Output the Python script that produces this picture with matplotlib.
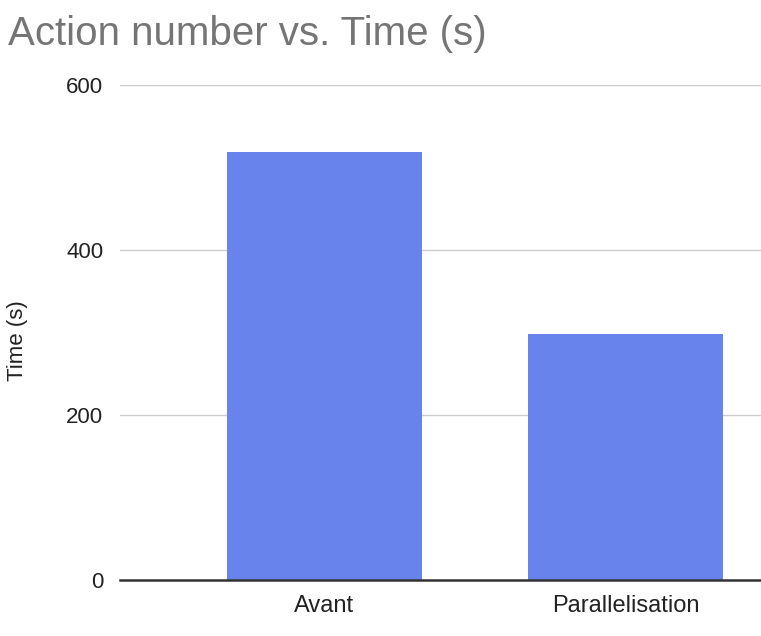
import matplotlib.pyplot as plt

categories = ["Avant", "Parallelisation"]
times = [519, 298]
yticks = [0, 200, 400, 600]

plt.rcParams['font.family'] = ['Liberation Sans', 'DejaVu Sans']

fig = plt.figure(figsize=(7.61, 6.36), dpi=100)
ax = fig.add_axes([120/761, 1-580/636, 641/761, (580-85)/636])

x = list(range(len(categories)))
ax.bar(x, times, width=0.645, color='#6884ec', zorder=3)

ax.set_xlim(-0.678, 1.449)
ax.set_ylim(0, 600)
ax.set_yticks(yticks)
ax.set_yticklabels([str(t) for t in yticks])
ax.set_xticks(x)
ax.set_xticklabels(categories)
ax.tick_params(length=0, colors='#222222')
ax.tick_params(axis='y', labelsize=16, pad=12)
ax.tick_params(axis='x', labelsize=17, pad=11)
ax.grid(axis='y', color='#cccccc', linewidth=1, zorder=0)
for s in ['top', 'right', 'left']:
    ax.spines[s].set_visible(False)
ax.spines['bottom'].set_color('#333333')
ax.spines['bottom'].set_linewidth(1.8)
ax.spines['bottom'].set_zorder(4)

fig.text(18/761, 1-341/636, 'Time (s)', fontsize=16, color='#222222',
         rotation=90, ha='center', va='center')
fig.text(8/761, 1-45/636, 'Action number vs. Time (s)', fontsize=29,
         color='#757575', ha='left', va='baseline')

fig.savefig('out.png', dpi=100)
